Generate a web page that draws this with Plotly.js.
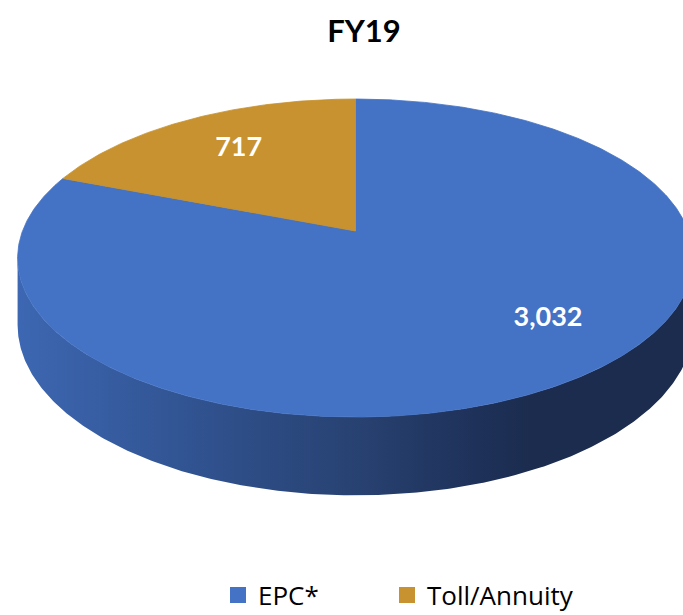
<!DOCTYPE html>
<html>
<head>
<meta charset="utf-8">
<script src="https://cdn.plot.ly/plotly-3.0.1.min.js"></script>
<style>html,body{margin:0;padding:0;background:#fff;}#chart{width:683px;height:615px;}</style>
</head>
<body>
<div id="chart"></div>
<script>
// ---- data ----
const categories = ['EPC*', 'Toll/Annuity'];
const values = [3032, 717];
const valueLabels = ['3,032', '717'];
const chartTitle = 'FY19';

// ---- style ----
const topColors = ['#4472C4', '#C7922F'];
const sideScale = [[0, '#3D67B2'], [0.27, '#30528F'], [0.52, '#27406F'], [0.68, '#1E3159'], [0.76, '#1B2C4E'], [1, '#1B2C4E']];
// label placement (radial fraction, angle nudge in degrees) per slice
const labelRadius = [0.74, 0.70];
const labelNudge = [-11, 1];
const legendLeft = [218, 387];
const W = 683, H = 615;
// projection of a tilted disc (perspective) onto the pixel-scaled axes
const CX = 355.5, CY = 231, K = 0.17, RY = 154.4, R = 333, DEPTH = 65;

function proj(thetaDeg, f, drop) {
  const t = thetaDeg * Math.PI / 180;
  const u = f * Math.sin(t), v = f * Math.cos(t);
  const s = 1 / (1 + K * v);
  return [CX + R * u * s, CY - RY * v * s + (drop || 0) * s];
}

const total = values.reduce((a, b) => a + b, 0);
const traces = [];

// side wall (front visible half)
const phiEdge = Math.acos(-K) * 180 / Math.PI;
{
  const xs = [], ys = [];
  for (let p = phiEdge; p <= 360 - phiEdge + 1e-9; p += 0.5) { const q = proj(p, 1, 0); xs.push(q[0]); ys.push(q[1]); }
  for (let p = 360 - phiEdge; p >= phiEdge - 1e-9; p -= 0.5) { const q = proj(p, 1, DEPTH); xs.push(q[0]); ys.push(q[1]); }
  xs.push(xs[0]); ys.push(ys[0]);
  traces.push({
    type: 'scatter', x: xs, y: ys, mode: 'lines', fill: 'toself',
    line: { width: 0, color: 'rgba(0,0,0,0)' },
    fillgradient: { type: 'horizontal', colorscale: sideScale },
    hoverinfo: 'skip', showlegend: false
  });
}

// top slices
let start = 0;
const labelPts = [];
values.forEach((v, i) => {
  const span = v / total * 360;
  const xs = [CX], ys = [CY];
  const steps = Math.max(2, Math.ceil(span / 0.5));
  for (let j = 0; j <= steps; j++) {
    const q = proj(start + span * j / steps, 1, 0);
    xs.push(q[0]); ys.push(q[1]);
  }
  xs.push(CX); ys.push(CY);
  traces.push({
    type: 'scatter', x: xs, y: ys, mode: 'lines', fill: 'toself',
    fillcolor: topColors[i], line: { width: 0.8, color: topColors[i] },
    name: categories[i], hoverinfo: 'skip', showlegend: false
  });
  labelPts.push(proj(start + span / 2 + labelNudge[i], labelRadius[i], 0));
  start += span;
});

// data labels
traces.push({
  type: 'scatter', mode: 'text',
  x: labelPts.map(p => p[0]), y: labelPts.map(p => p[1]),
  text: valueLabels,
  textfont: { family: 'Lato, "Open Sans", sans-serif', size: 27, color: '#FFFFFF', weight: 'bold' },
  hoverinfo: 'skip', showlegend: false
});

// legend entries (one legend each, so the gap matches the reference)
categories.forEach((c, i) => {
  traces.push({
    type: 'scatter', mode: 'markers', x: [null], y: [null], name: c,
    marker: { symbol: 'square', size: 16, color: topColors[i] },
    legend: i === 0 ? 'legend' : 'legend2',
    hoverinfo: 'skip', showlegend: true
  });
});

const legendStyle = (i) => ({
  orientation: 'h', x: legendLeft[i] / W, xanchor: 'left', y: 1 - 595 / H, yanchor: 'middle',
  font: { family: '"Open Sans", Lato, sans-serif', size: 26, color: '#000000' },
  bgcolor: 'rgba(0,0,0,0)'
});

const layout = {
  width: W, height: H,
  margin: { l: 0, r: 0, t: 0, b: 0, autoexpand: false },
  paper_bgcolor: '#FFFFFF', plot_bgcolor: '#FFFFFF',
  title: {
    text: '<b>' + chartTitle + '</b>',
    font: { family: 'Lato, "Open Sans", sans-serif', size: 31, color: '#000000' },
    x: 364 / W, xanchor: 'center', xref: 'container',
    y: 1 - 31 / H, yanchor: 'middle', yref: 'container'
  },
  xaxis: { range: [0, W], visible: false, fixedrange: true },
  yaxis: { range: [H, 0], visible: false, fixedrange: true },
  showlegend: true,
  legend: legendStyle(0),
  legend2: legendStyle(1),
  hovermode: false
};

Plotly.newPlot('chart', traces, layout, { displayModeBar: false, staticPlot: true });
</script>
</body>
</html>
